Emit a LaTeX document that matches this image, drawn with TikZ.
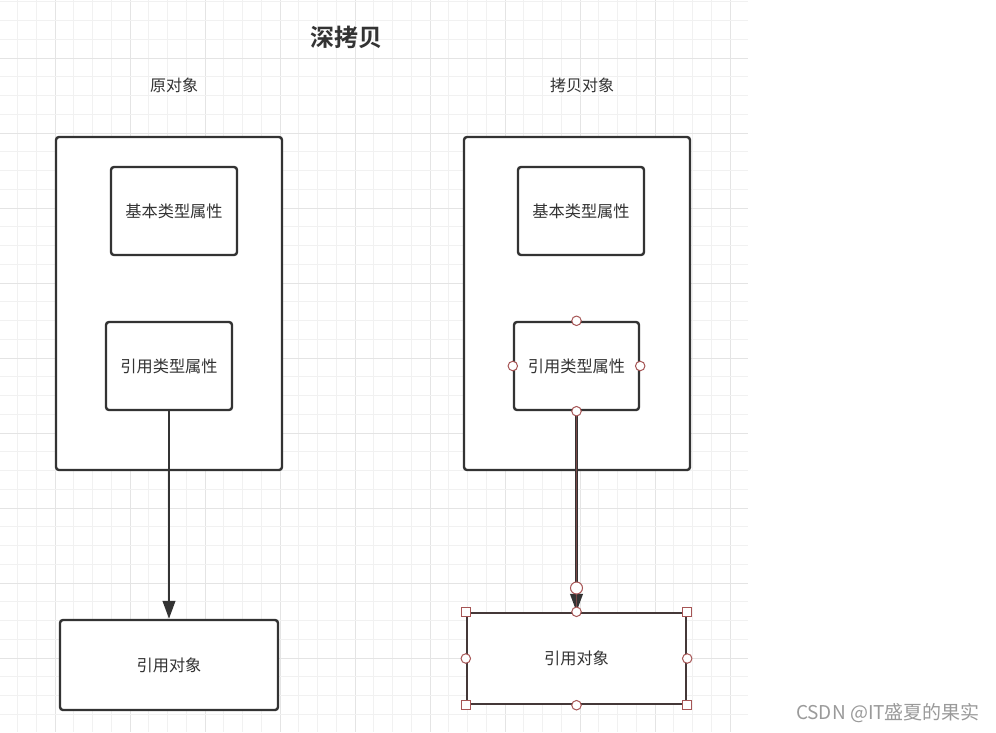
\documentclass[tikz,border=0pt]{standalone}
\usepackage{fontspec}
\newfontfamily\cjk{Noto Sans CJK SC}
\newfontfamily\cjkb{Noto Sans CJK SC Bold}
\usetikzlibrary{arrows.meta}
\definecolor{gridminor}{HTML}{F1F1F1}
\definecolor{gridmajor}{HTML}{E4E4E4}
\definecolor{ink}{HTML}{333333}
\definecolor{handle}{HTML}{A65555}
\definecolor{wm}{HTML}{9A9A9A}
\tikzset{
  box/.style={draw=ink, line width=2.4pt, rounded corners=3pt, fill=white, inner sep=0pt,
    font=\cjk\fontsize{16.2}{19}\selectfont, text=ink},
  conn/.style={draw=ink, line width=2.4pt, -{Triangle[length=18pt,width=12.5pt]}},
  dot/.style={circle, draw=handle, fill=white, line width=1pt, minimum size=9.5pt, inner sep=0pt},
  sq/.style={rectangle, draw=handle, fill=white, line width=1pt, minimum size=9pt, inner sep=0pt},
  lbl/.style={font=\cjk\fontsize{16}{19}\selectfont, text=ink, inner sep=0pt},
}
\begin{document}
\begin{tikzpicture}[x=1pt,y=-1pt]
\useasboundingbox (0,0) rectangle (996,732);
\fill[white] (0,0) rectangle (996,732);
% grid
\foreach \i in {0,...,39} {
  \pgfmathsetmacro{\xx}{17.5+18.75*\i}
  \ifdim\xx pt<748pt
    \pgfmathtruncatemacro{\m}{mod(\i+2,4)}
    \ifnum\m=0 \draw[gridmajor, line width=1pt] (\xx,0) -- (\xx,732);
    \else \draw[gridminor, line width=1pt] (\xx,0) -- (\xx,732); \fi
  \fi
}
\foreach \i in {0,...,39} {
  \pgfmathsetmacro{\yy}{1.75+18.75*\i}
  \ifdim\yy pt<732pt
    \pgfmathtruncatemacro{\m}{mod(\i+1,4)}
    \ifnum\m=0 \draw[gridmajor, line width=1pt] (0,\yy) -- (748,\yy);
    \else \draw[gridminor, line width=1pt] (0,\yy) -- (748,\yy); \fi
  \fi
}
% titles
\node[lbl, font=\cjkb\fontsize{24}{28}\selectfont] (title) at (346,37) {深拷贝};
\node[lbl] (lorig) at (174,85) {原对象};
\node[lbl] (lcopy) at (582,85) {拷贝对象};
% left side
\node[box, minimum width=226pt, minimum height=333pt] (lo) at (169,303.5) {};
\node[box, minimum width=126pt, minimum height=88pt] (lb) at (174,211) {基本类型属性};
\node[box, minimum width=126pt, minimum height=88pt] (lr) at (169,366) {引用类型属性};
\node[box, minimum width=218pt, minimum height=90pt] (lt) at (169,665) {引用对象};
\draw[conn] (lr.south) -- (lt.north);
% right side
\node[box, minimum width=226pt, minimum height=333pt] (ro) at (577,303.5) {};
\node[box, minimum width=126pt, minimum height=88pt] (rb) at (581,211) {基本类型属性};
\node[box, minimum width=125pt, minimum height=88pt] (rr) at (576.5,366) {引用类型属性};
\node[box, rounded corners=0pt, draw=ink!85!handle, minimum width=219pt, minimum height=91pt] (rt) at (576.5,658.5) {引用对象};
\draw[conn] (rr.south) -- (rt.north);
\draw[handle!60!ink, line width=0.4pt] (rr.south) -- (rt.north);
% handles
\foreach \a in {north,south,east,west} { \node[dot] at (rr.\a) {}; }
\foreach \a in {north,south,east,west} { \node[dot] at (rt.\a) {}; }
\foreach \a in {north east,north west,south east,south west} { \node[sq] at (rt.\a) {}; }
\node[dot, minimum size=12pt] (eh) at (576.5,588) {};
% watermark
\node[font=\cjk\fontsize{19}{22}\selectfont, text=wm, inner sep=0pt] (wmk) at (888,713) {CSDN @IT盛夏的果实};
\end{tikzpicture}
\end{document}
